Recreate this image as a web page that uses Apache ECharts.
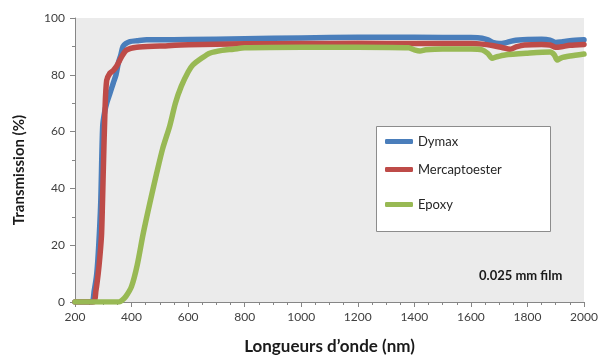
<!DOCTYPE html>
<html>
<head>
<meta charset="utf-8">
<script src="https://cdn.jsdelivr.net/npm/echarts@6/dist/echarts.min.js"></script>
<style>
  html, body { margin: 0; padding: 0; background: #fff; }
  #chart { width: 598px; height: 356px; }
</style>
</head>
<body>
<div id="chart"></div>
<script>
// 数据
const seriesNames = ['Dymax', 'Mercaptoester', 'Epoxy']

const dymaxWl = [200, 259, 268, 277, 284, 291, 298, 305, 312, 322, 335, 345, 353, 362, 370, 380, 394, 420, 453, 500, 600, 800, 1000, 1200, 1400, 1600, 1640, 1660, 1680, 1700, 1720, 1750, 1800, 1850, 1880, 1900, 1920, 1950, 2000]
const dymaxT = [0, 0, 4, 10, 20, 35, 62, 67, 70, 73, 77, 80, 84, 87, 90, 91, 91.7, 92, 92.3, 92.3, 92.4, 92.7, 93, 93.2, 93.2, 93.1, 92.9, 92.3, 91.3, 91, 91.2, 92, 92.4, 92.5, 92.2, 91.4, 91.6, 92, 92.3]

const mercWl = [200, 265, 274, 282, 288, 294, 300, 306, 312, 323, 335, 347, 365, 382, 418, 500, 600, 800, 1000, 1200, 1400, 1600, 1640, 1680, 1710, 1740, 1760, 1790, 1850, 1880, 1900, 1920, 1950, 2000]
const mercT = [0, 0, 4, 10, 16, 24, 46, 67.5, 78, 80.5, 81.5, 83, 86.4, 88.7, 89.7, 90.1, 90.6, 90.9, 91, 91.1, 91, 91, 90.8, 90.2, 89.6, 89, 89.8, 90.5, 90.7, 90.5, 89.7, 89.9, 90.4, 90.7]

const epoxyWl = [200, 355, 365, 380, 400, 420, 441, 465, 488, 510, 535, 555, 576, 600, 617, 650, 676, 720, 760, 800, 1000, 1200, 1380, 1400, 1420, 1440, 1500, 1600, 1640, 1660, 1675, 1690, 1720, 1800, 1880, 1895, 1905, 1920, 1950, 2000]
const epoxyT = [0, 0, 0.5, 2, 5.5, 13, 24, 35, 45, 54, 62, 70, 76, 81, 83.5, 86, 87.6, 88.6, 89, 89.5, 89.7, 89.7, 89.5, 88.8, 88.4, 88.8, 89.1, 89.1, 88.8, 87.5, 85.8, 86.3, 87, 87.6, 88, 87, 85.2, 86, 86.6, 87.3]

const colors = ['#4a7ebb', '#be4b48', '#98b954']

function pairs(xs, ys) {
    return xs.map((x, i) => [x, ys[i]])
}

const chart = echarts.init(document.getElementById('chart'))

const axisGray = '#868686'
const labelStyle = { color: '#404040', fontSize: 12, fontFamily: 'Lato' }

const option = {
    animation: false,
    color: colors,
    grid: {
        left: 75, right: 14, top: 18, bottom: 54,
        outerBoundsMode: 'none',
        containLabel: false,
        show: true,
        backgroundColor: '#ebebeb',
        borderWidth: 0
    },
    xAxis: {
        type: 'value',
        min: 200, max: 2000, interval: 200,
        name: 'Longueurs d’onde (nm)',
        nameLocation: 'middle',
        nameGap: 36,
        nameTextStyle: { fontSize: 17, fontWeight: 'bold', fontFamily: 'Lato', color: '#1a1a1a' },
        axisLine: { show: true, lineStyle: { color: axisGray } },
        axisTick: { show: true, length: 5, lineStyle: { color: axisGray } },
        minorTick: { show: true, splitNumber: 4, length: 3, lineStyle: { color: axisGray } },
        splitLine: { show: false },
        axisLabel: Object.assign({ margin: 9, formatter: v => String(v) }, labelStyle)
    },
    yAxis: {
        type: 'value',
        min: 0, max: 100, interval: 20,
        name: 'Transmission (%)',
        nameLocation: 'middle',
        nameGap: 48,
        nameTextStyle: { fontSize: 15, fontWeight: 'bold', fontFamily: 'Lato', color: '#1a1a1a', padding: [0, 20, 0, 0] },
        axisLine: { show: true, lineStyle: { color: axisGray } },
        axisTick: { show: true, length: 5, lineStyle: { color: axisGray } },
        minorTick: { show: true, splitNumber: 2, length: 3, lineStyle: { color: axisGray } },
        splitLine: { show: false },
        axisLabel: Object.assign({ margin: 10 }, labelStyle)
    },
    legend: [0, 1, 2].map(i => ({
        data: [seriesNames[i]],
        left: 385,
        top: [135, 163, 198][i],
        padding: 0,
        icon: 'roundRect',
        itemWidth: 28,
        itemHeight: 5,
        itemGap: 0,
        z: 5,
        textStyle: { color: '#262626', fontSize: 13, fontFamily: 'Lato' }
    })),
    graphic: [
        {
            type: 'rect',
            z: 1,
            shape: { x: 376.5, y: 126.5, width: 174, height: 105 },
            style: { fill: '#ffffff', stroke: '#8c8c8c', lineWidth: 1 }
        },
        {
            type: 'text',
            z: 1,
            left: 479,
            top: 269,
            style: { text: '0.025 mm film', fontSize: 13, fontWeight: 'bold', fontFamily: 'Lato', fill: '#1a1a1a' }
        }
    ],
    series: [
        { name: 'Dymax', data: pairs(dymaxWl, dymaxT) },
        { name: 'Mercaptoester', data: pairs(mercWl, mercT) },
        { name: 'Epoxy', data: pairs(epoxyWl, epoxyT) }
    ].map(s => Object.assign({
        type: 'line',
        showSymbol: false,
        smooth: 0.25,
        lineStyle: { width: 5.5, cap: 'round', join: 'round' }
    }, s))
}

chart.setOption(option)
</script>
</body>
</html>
